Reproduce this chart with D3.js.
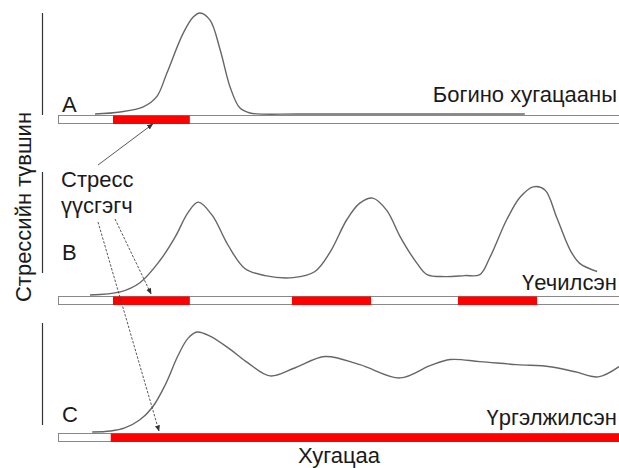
<!DOCTYPE html>
<html>
<head>
<meta charset="utf-8">
<script src="https://cdn.jsdelivr.net/npm/d3@7"></script>
<style>
    body { margin: 0; background: #fff; }
    svg { display: block; font-family: "Liberation Sans", Arial, sans-serif; }
</style>
</head>
<body>
<svg id="chart" width="619" height="468"></svg>
<script>
'use strict';

// panel letters and response pattern names
var panelNames = ['A', 'B', 'C'];
var patternLabels = ['Богино хугацааны', 'Үечилсэн', 'Үргэлжилсэн'];
var yAxisTitle = 'Стрессийн түвшин';
var xAxisTitle = 'Хугацаа';
var stressorLabel = ['Стресс', 'үүсгэгч'];

// stressor exposure intervals on the time axis (0..100)
var stressorA = [[9.8, 23.5]];
var stressorB = [[9.8, 23.5], [41.7, 55.8], [71.3, 85.4]];
var stressorC = [[9.4, 100]];

// stress level curves: [time, level]
var levelA = [
    [6.6, 1], [11.1, 3], [15.2, 8], [17.6, 18], [19.4, 41], [22.3, 80], [24.1, 96],
    [25.3, 100], [27.1, 93], [28.9, 64], [30.7, 27], [32.4, 7], [34.2, 2], [43.1, 1],
    [61, 1], [83.2, 1]
];
var levelB = [
    [5.7, 1], [11.1, 4], [14.6, 13], [18.2, 35], [20.9, 58], [23.2, 82], [25.0, 92],
    [27.5, 79], [30.3, 50], [33.3, 27], [36.9, 20], [41.9, 18], [45.8, 24], [48.5, 43],
    [51.5, 75], [53.8, 91], [56.1, 96], [58.6, 84], [61.0, 58], [64.0, 32], [65.8, 21],
    [69.0, 19], [72.5, 20], [75.2, 21], [77.0, 38], [80.0, 75], [82.4, 97], [84.7, 107],
    [86.8, 104], [88.9, 77], [91.3, 45], [93.0, 32], [96.1, 24]
];
var levelC = [
    [6.1, 1], [9.4, 2], [11.9, 5], [14.6, 13], [16.8, 25], [19.1, 47], [21.4, 76],
    [23.2, 93], [24.8, 99], [27.1, 95], [30.7, 82], [33.8, 69], [37.8, 56], [42.3, 64],
    [47.6, 75], [53.8, 67], [61.0, 54], [66.3, 66], [69.9, 72], [75.2, 70], [81.8, 67],
    [87.7, 65], [92.2, 60], [96.3, 55], [100, 65]
];

var stressors = [stressorA, stressorB, stressorC];
var levels = [levelA, levelB, levelC];

// layout of the three stacked panels
var panels = [
    { barY: 115, axisTop: 13, axisBottom: 115, letterY: 112, labelY: 102 },
    { barY: 296, axisTop: 172, axisBottom: 273, letterY: 260, labelY: 290 },
    { barY: 433, axisTop: 323, axisBottom: 425, letterY: 422, labelY: 425 }
];
var barHeight = 8;
var panelHeight = 102;
var fontSize = 22;

var svg = d3.select('#chart');

var x = d3.scaleLinear().domain([0, 100]).range([58, 619]);

svg.append('defs').append('marker')
    .attr('id', 'head')
    .attr('viewBox', '0 0 10 10')
    .attr('refX', 9)
    .attr('refY', 5)
    .attr('markerWidth', 7)
    .attr('markerHeight', 7)
    .attr('orient', 'auto')
    .append('path')
    .attr('d', 'M0,1 L10,5 L0,9 Z')
    .attr('fill', '#333');

panels.forEach(function (p, i) {
    var y = d3.scaleLinear().domain([0, 100]).range([p.barY, p.barY - panelHeight]);
    var g = svg.append('g').attr('class', 'panel');

    g.append('line')
        .attr('x1', 42.5).attr('x2', 42.5)
        .attr('y1', p.axisTop).attr('y2', p.axisBottom)
        .attr('stroke', '#333').attr('stroke-width', 1.2);

    g.append('rect')
        .attr('x', x(0) + 0.5).attr('y', p.barY + 0.5)
        .attr('width', x(100) - x(0) + 2).attr('height', barHeight)
        .attr('fill', '#fff').attr('stroke', '#888').attr('stroke-width', 1);

    g.selectAll('rect.stressor')
        .data(stressors[i])
        .enter().append('rect')
        .attr('class', 'stressor')
        .attr('x', function (d) { return x(d[0]); })
        .attr('y', p.barY + 0.5)
        .attr('width', function (d) { return x(d[1]) - x(d[0]) + (d[1] >= 100 ? 2 : 0); })
        .attr('height', barHeight + 0.5)
        .attr('fill', '#ff0000');

    var line = d3.line()
        .x(function (d) { return x(d[0]); })
        .y(function (d) { return y(d[1]); })
        .curve(d3.curveCatmullRom.alpha(0.5));

    g.append('path')
        .datum(levels[i])
        .attr('d', line)
        .attr('fill', 'none')
        .attr('stroke', '#666')
        .attr('stroke-width', 1.4);

    g.append('text')
        .attr('x', 62).attr('y', p.letterY)
        .attr('font-size', fontSize).attr('fill', '#1a1a1a')
        .text(panelNames[i]);

    g.append('text')
        .attr('x', 617).attr('y', p.labelY)
        .attr('text-anchor', 'end')
        .attr('font-size', fontSize).attr('fill', '#1a1a1a')
        .text(patternLabels[i]);
});

// stressor annotation
svg.append('text')
    .attr('x', 61).attr('y', 187)
    .attr('font-size', fontSize).attr('fill', '#1a1a1a')
    .text(stressorLabel[0]);
svg.append('text')
    .attr('x', 61).attr('y', 213)
    .attr('font-size', fontSize).attr('fill', '#1a1a1a')
    .text(stressorLabel[1]);

var arrows = [
    { x1: 98, y1: 165, t: 16.9, y2: panels[0].barY + barHeight + 1, dash: null },
    { x1: 115, y1: 219, t: 16.6, y2: panels[1].barY - 2, dash: '2.5,1.5' },
    { x1: 98, y1: 222, t: 18.0, y2: panels[2].barY - 2, dash: '2.5,1.5' }
];

svg.selectAll('line.arrow')
    .data(arrows)
    .enter().append('line')
    .attr('class', 'arrow')
    .attr('x1', function (d) { return d.x1; })
    .attr('y1', function (d) { return d.y1; })
    .attr('x2', function (d) { return x(d.t); })
    .attr('y2', function (d) { return d.y2; })
    .attr('stroke', '#444')
    .attr('stroke-width', 0.9)
    .attr('stroke-dasharray', function (d) { return d.dash; })
    .attr('marker-end', 'url(#head)');

// axis titles
svg.append('text')
    .attr('transform', 'translate(31,207) rotate(-90)')
    .attr('text-anchor', 'middle')
    .attr('font-size', fontSize).attr('fill', '#1a1a1a')
    .text(yAxisTitle);

svg.append('text')
    .attr('x', 339).attr('y', 463)
    .attr('text-anchor', 'middle')
    .attr('font-size', fontSize).attr('fill', '#1a1a1a')
    .text(xAxisTitle);
</script>
</body>
</html>
